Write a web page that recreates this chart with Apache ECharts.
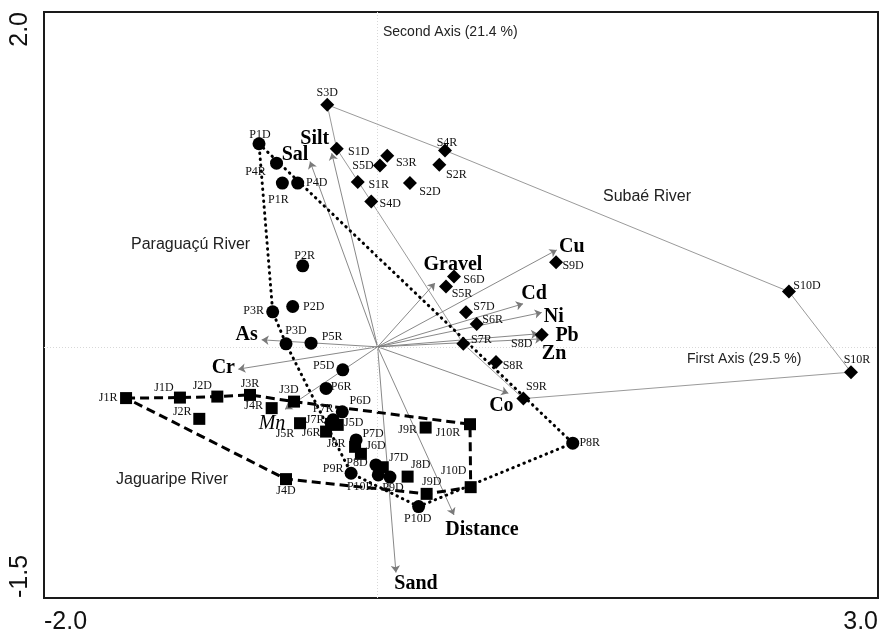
<!DOCTYPE html>
<html>
<head>
<meta charset="utf-8">
<script src="https://cdn.jsdelivr.net/npm/echarts@6/dist/echarts.min.js"></script>
<style>
  html, body { margin: 0; padding: 0; background: #fff; }
  #chart { width: 882px; height: 640px; }
</style>
</head>
<body>
<div id="chart"></div>
<script>
// Ordination scores on the first and second axes, by river.
const paraguacuNames = ['P1D','P4R','P1R','P4D','P2R','P2D','P3R','P3D','P5R','P5D','P6R','P6D','P7R','P7D','P8D','P9R','P10R','P9D','P10D','P8R'];
const paraguacuAxis1 = [-0.711,-0.606,-0.571,-0.479,-0.449,-0.509,-0.629,-0.549,-0.399,-0.209,-0.309,-0.212,-0.267,-0.129,-0.010,-0.159,0.004,0.074,0.246,1.170];
const paraguacuAxis2 = [1.213,1.097,0.978,0.978,0.484,0.241,0.209,0.018,0.022,-0.137,-0.248,-0.388,-0.436,-0.556,-0.705,-0.755,-0.765,-0.778,-0.954,-0.575];

const jaguaripeNames = ['J1R','J1D','J2D','J3R','J2R','J4R','J3D','J4D','J5R','J7R','J6R','J5D','J8R','J6D','J7D','J8D','J9D','J10D','J9R','J10R'];
const jaguaripeAxis1 = [-1.508,-1.185,-0.961,-0.765,-1.069,-0.635,-0.501,-0.549,-0.465,-0.279,-0.309,-0.239,-0.135,-0.100,0.031,0.180,0.294,0.558,0.288,0.554];
const jaguaripeAxis2 = [-0.306,-0.303,-0.297,-0.287,-0.430,-0.366,-0.327,-0.790,-0.456,-0.460,-0.506,-0.466,-0.597,-0.639,-0.719,-0.775,-0.878,-0.838,-0.482,-0.462];

const subaeNames = ['S3D','S1D','S5D','S3R','S4R','S2R','S1R','S2D','S4D','S6D','S5R','S9D','S7D','S6R','S8D','S7R','S8R','S9R','S10D','S10R'];
const subaeAxis1 = [-0.302,-0.245,0.014,0.058,0.404,0.370,-0.119,0.194,-0.038,0.458,0.410,1.070,0.530,0.594,0.984,0.514,0.710,0.874,2.466,2.838];
const subaeAxis2 = [1.446,1.183,1.083,1.141,1.173,1.087,0.984,0.978,0.868,0.420,0.360,0.506,0.207,0.136,0.072,0.018,-0.091,-0.309,0.330,-0.151];

// Environmental variables (arrow tips).
const variableNames = ['Silt','Sal','Gravel','Cu','Cd','Ni','Pb','Zn','Co','Distance','Sand','As','Cr','Mn'];
const variableAxis1 = [-0.275,-0.405,0.344,1.074,0.872,0.984,0.962,0.986,0.784,0.458,0.110,-0.695,-0.835,-0.555];
const variableAxis2 = [1.157,1.107,0.381,0.579,0.257,0.205,0.078,0.048,-0.277,-1.004,-1.348,0.042,-0.133,-0.373];

// Outline of each river's group of sites.
const subaeOutline = ['S3D','S4R','S10D','S10R','S9R','S7R','S4D','S1D','S3D'];
const paraguacuOutline = ['P1D','P8R','P10D','P9R','P3D','P3R','P1D'];
const jaguaripeOutline = ['J1R','J1D','J2D','J3R','J3D','J10R','J10D','J9D','J4D','J1R'];

// Axis end labels.
const xTicks = [-2.0, 3.0];
const yTicks = [-1.5, 2.0];

// Label placement (pixel offset of the label centre from its marker).
const siteLabelOffsets = {
  P1D:[1,-9], P4R:[-21,9], P1R:[-4,17], P4D:[19,0], P2R:[2,-10], P2D:[21,0], P3R:[-19,-1],
  P3D:[10,-13], P5R:[21,-6], P5D:[-19,-4], P6R:[15,-2], P6D:[18,-11], P7R:[-10,-11],
  P7D:[17,-6], P8D:[-19,-2], P9R:[-18,-4], P10R:[-18,12], P9D:[3,11], P10D:[-1,12], P8R:[17,0],
  J1R:[-18,0], J1D:[-16,-10], J2D:[-15,-11], J3R:[0,-11], J2R:[-17,-7], J4R:[-18,-2],
  J3D:[-5,-12], J4D:[0,12], J5R:[-15,11], J7R:[-16,-4], J6R:[-15,1], J5D:[16,-2],
  J8R:[-19,-3], J6D:[15,-8], J7D:[16,-9], J8D:[13,-12], J9D:[5,-12], J10D:[-17,-16],
  J9R:[-18,2], J10R:[-22,9],
  S3D:[0,-12], S1D:[22,3], S5D:[-17,0], S3R:[19,7], S4R:[2,-8], S2R:[17,10], S1R:[21,3],
  S2D:[20,9], S4D:[19,2], S6D:[20,3], S5R:[16,7], S9D:[17,4], S7D:[18,-5], S6R:[16,-4],
  S8D:[-20,9], S7R:[18,-4], S8R:[17,4], S9R:[13,-12], S10D:[18,-6], S10R:[6,-12]
};
const variableLabelOffsets = {
  Silt:[-17,-14], Sal:[-15,-7], Gravel:[18,-18], Cu:[15,-3], Cd:[11,-10], Ni:[12,4],
  Pb:[29,2], Zn:[12,15], Co:[-7,13], Distance:[28,15], Sand:[20,11], As:[-15,-5],
  Cr:[-15,-1], Mn:[-13,14]
};

const SERIF = '"Liberation Serif", "Times New Roman", serif';
const SANS = '"Liberation Sans", Arial, sans-serif';

function sitePoints(names, xs, ys) {
  return names.map((n, i) => ({
    name: n,
    value: [xs[i], ys[i]],
    label: { offset: siteLabelOffsets[n] || [0, 0] }
  }));
}

function outlinePoints(order, names, xs, ys) {
  return order.map(n => {
    const i = names.indexOf(n);
    return [xs[i], ys[i]];
  });
}

const siteLabel = {
  show: true,
  position: 'inside',
  formatter: '{b}',
  color: '#111',
  fontFamily: SERIF,
  fontSize: 12
};

const chart = echarts.init(document.getElementById('chart'), null, { renderer: 'canvas' });

chart.setOption({
  animation: false,
  backgroundColor: '#fff',
  grid: {
    left: 44, right: 4, top: 12, bottom: 42,
    show: true, borderColor: '#1a1a1a', borderWidth: 2, backgroundColor: 'transparent'
  },
  xAxis: {
    type: 'value',
    min: xTicks[0], max: xTicks[1], interval: xTicks[1] - xTicks[0],
    splitLine: { show: false }, axisTick: { show: false }, axisLine: { show: false },
    axisLabel: {
      formatter: v => v.toFixed(1),
      fontFamily: SANS, fontSize: 25, color: '#111', margin: 12,
      alignMinLabel: 'left', alignMaxLabel: 'right'
    }
  },
  yAxis: {
    type: 'value',
    min: yTicks[0], max: yTicks[1], interval: yTicks[1] - yTicks[0],
    splitLine: { show: false }, axisTick: { show: false }, axisLine: { show: false },
    axisLabel: {
      formatter: v => v.toFixed(1),
      rotate: 90,
      fontFamily: SANS, fontSize: 25, color: '#111', margin: 11,
      verticalAlign: 'bottom',
      alignMinLabel: 'left', alignMaxLabel: 'right'
    }
  },
  graphic: [
    { type: 'text', x: 383, y: 32, silent: true,
      style: { text: 'Second Axis (21.4 %)', font: '14px ' + SANS, fill: '#222', align: 'left', verticalAlign: 'middle' } },
    { type: 'text', x: 687, y: 359, silent: true,
      style: { text: 'First Axis (29.5 %)', font: '14px ' + SANS, fill: '#222', align: 'left', verticalAlign: 'middle' } },
    { type: 'text', x: 603, y: 197, silent: true,
      style: { text: 'Subaé River', font: '16px ' + SANS, fill: '#222', align: 'left', verticalAlign: 'middle' } },
    { type: 'text', x: 131, y: 245, silent: true,
      style: { text: 'Paraguaçú River', font: '16px ' + SANS, fill: '#222', align: 'left', verticalAlign: 'middle' } },
    { type: 'text', x: 116, y: 480, silent: true,
      style: { text: 'Jaguaripe River', font: '16px ' + SANS, fill: '#222', align: 'left', verticalAlign: 'middle' } }
  ],
  series: [
    // Subaé River outline (also carries the origin cross lines)
    {
      type: 'line', z: 1, silent: true, symbol: 'none',
      data: outlinePoints(subaeOutline, subaeNames, subaeAxis1, subaeAxis2),
      lineStyle: { color: '#9a9a9a', width: 1 },
      markLine: {
        silent: true, symbol: 'none', label: { show: false },
        lineStyle: { color: '#d8d8d8', type: [1, 2], width: 1 },
        data: [{ xAxis: 0 }, { yAxis: 0 }]
      }
    },
    // Environmental variable arrows
    {
      type: 'lines', coordinateSystem: 'cartesian2d', z: 2, silent: true,
      symbol: ['none', 'arrow'], symbolSize: 7,
      lineStyle: { color: '#7a7a7a', width: 0.9, opacity: 1 },
      data: variableNames.map((n, i) => ({ coords: [[0, 0], [variableAxis1[i], variableAxis2[i]]] }))
    },
    // Paraguaçú River outline (dotted)
    {
      type: 'line', z: 3, silent: true, symbol: 'none',
      data: outlinePoints(paraguacuOutline, paraguacuNames, paraguacuAxis1, paraguacuAxis2),
      lineStyle: { color: '#000', width: 3, type: [0.5, 5.5], cap: 'round' }
    },
    // Jaguaripe River outline (dashed)
    {
      type: 'line', z: 3, silent: true, symbol: 'none',
      data: outlinePoints(jaguaripeOutline, jaguaripeNames, jaguaripeAxis1, jaguaripeAxis2),
      lineStyle: { color: '#000', width: 3, type: [9, 5] }
    },
    // Sites
    {
      type: 'scatter', name: 'Paraguaçú River', z: 5, symbol: 'circle', symbolSize: 13,
      itemStyle: { color: '#000', opacity: 1 }, label: siteLabel,
      data: sitePoints(paraguacuNames, paraguacuAxis1, paraguacuAxis2)
    },
    {
      type: 'scatter', name: 'Jaguaripe River', z: 5, symbol: 'rect', symbolSize: 12,
      itemStyle: { color: '#000', opacity: 1 }, label: siteLabel,
      data: sitePoints(jaguaripeNames, jaguaripeAxis1, jaguaripeAxis2)
    },
    {
      type: 'scatter', name: 'Subaé River', z: 5, symbol: 'diamond', symbolSize: 14,
      itemStyle: { color: '#000', opacity: 1 }, label: siteLabel,
      data: sitePoints(subaeNames, subaeAxis1, subaeAxis2)
    },
    // Variable names at the arrow tips
    {
      type: 'scatter', z: 6, silent: true, symbolSize: 0,
      itemStyle: { opacity: 1 },
      label: {
        show: true, position: 'inside', formatter: '{b}',
        color: '#000', fontFamily: SERIF, fontSize: 20, fontWeight: 'bold'
      },
      data: variableNames.map((n, i) => ({
        name: n,
        value: [variableAxis1[i], variableAxis2[i]],
        label: n === 'Mn'
          ? { offset: variableLabelOffsets[n], fontStyle: 'italic', fontWeight: 'normal' }
          : { offset: variableLabelOffsets[n] }
      }))
    }
  ]
});
</script>
</body>
</html>
